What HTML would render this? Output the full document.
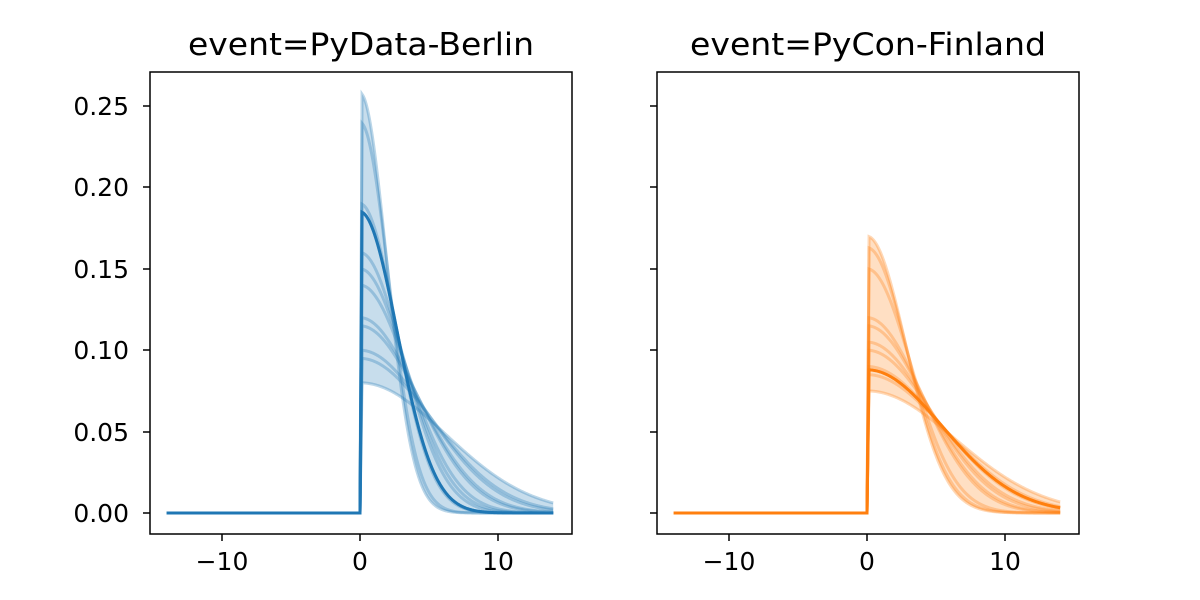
<!DOCTYPE html>
<html><head><meta charset="utf-8"><style>body{margin:0;background:#fff}svg{display:block}text{font-family:"DejaVu Sans","Liberation Sans",sans-serif;fill:#000}</style></head>
<body>
<svg id="s" width="1200" height="600" xmlns="http://www.w3.org/2000/svg">
<g id="plots"></g>
<rect x="150" y="72" width="422" height="462" fill="none" stroke="#000" stroke-width="1.5"/>
<rect x="657" y="72" width="422" height="462" fill="none" stroke="#000" stroke-width="1.5"/>
<text x="361" y="55" font-size="31" text-anchor="middle" textLength="346" lengthAdjust="spacingAndGlyphs">event=PyData-Berlin</text>
<text x="868" y="55" font-size="31" text-anchor="middle" textLength="356" lengthAdjust="spacingAndGlyphs">event=PyCon-Finland</text>
<g font-size="25" text-anchor="end">
<text x="129" y="522">0.00</text><text x="129" y="441">0.05</text><text x="129" y="359">0.10</text>
<text x="129" y="278">0.15</text><text x="129" y="196">0.20</text><text x="129" y="115">0.25</text>
</g>
<g stroke="#000" stroke-width="1.5" id="ticks"></g>
<g font-size="25" text-anchor="middle">
<text x="222" y="570">−10</text><text x="360" y="570">0</text><text x="498" y="570">10</text>
<text x="729" y="570">−10</text><text x="867" y="570">0</text><text x="1005" y="570">10</text>
</g>
</svg>
<script>
const NS="http://www.w3.org/2000/svg";
const g=document.getElementById('plots'),tk=document.getElementById('ticks');
function el(t,a,p){const e=document.createElementNS(NS,t);for(const k in a)e.setAttribute(k,a[k]);(p||g).appendChild(e);return e;}
[106,187,269,350,432,513].forEach(y=>{el('line',{x1:143,x2:150,y1:y,y2:y},tk);el('line',{x1:650,x2:657,y1:y,y2:y},tk);});
[222,360,498,729,867,1005].forEach(x=>el('line',{x1:x,x2:x,y1:534,y2:541},tk));
function curve(A,x,k){if(x<0)return 0;const s=k/(A*Math.sqrt(Math.PI/2));const r=Math.min(1,x/0.15);return r*A*Math.exp(-x*x/(2*s*s));}
function panel(off,peaks,mainPeak,col,k){
 const X=[];for(let x=-14;x<=14.001;x+=0.05)X.push(+x.toFixed(2));
 const px=x=>off+360+x*13.8,py=y=>513-y*1628;
 const cs=peaks.map(A=>X.map(x=>curve(A,x,k)));
 let top=X.map((x,i)=>Math.max(...cs.map(c=>c[i]))),bot=X.map((x,i)=>Math.min(...cs.map(c=>c[i])));
 let d='M'+X.map((x,i)=>px(x)+','+py(top[i])).join('L')+'L'+X.slice().reverse().map((x,j)=>px(x)+','+py(bot[X.length-1-j])).join('L')+'Z';
 el('path',{d,fill:col,'fill-opacity':0.25,stroke:'none'});
 cs.forEach(c=>el('path',{d:'M'+X.map((x,i)=>px(x)+','+py(c[i])).join('L'),fill:'none',stroke:col,'stroke-opacity':0.3,'stroke-width':3}));
 el('path',{d:'M'+X.map(x=>px(x)+','+py(curve(mainPeak,x,k))).join('L'),fill:'none',stroke:col,'stroke-width':3});
}
panel(0,[0.258,0.24,0.19,0.185,0.16,0.15,0.14,0.12,0.115,0.1,0.095,0.08],0.185,'#1f77b4',0.62);
panel(507,[0.17,0.163,0.15,0.12,0.115,0.105,0.1,0.09,0.085,0.075],0.088,'#ff7f0e',0.6);
</script>
</body></html>
